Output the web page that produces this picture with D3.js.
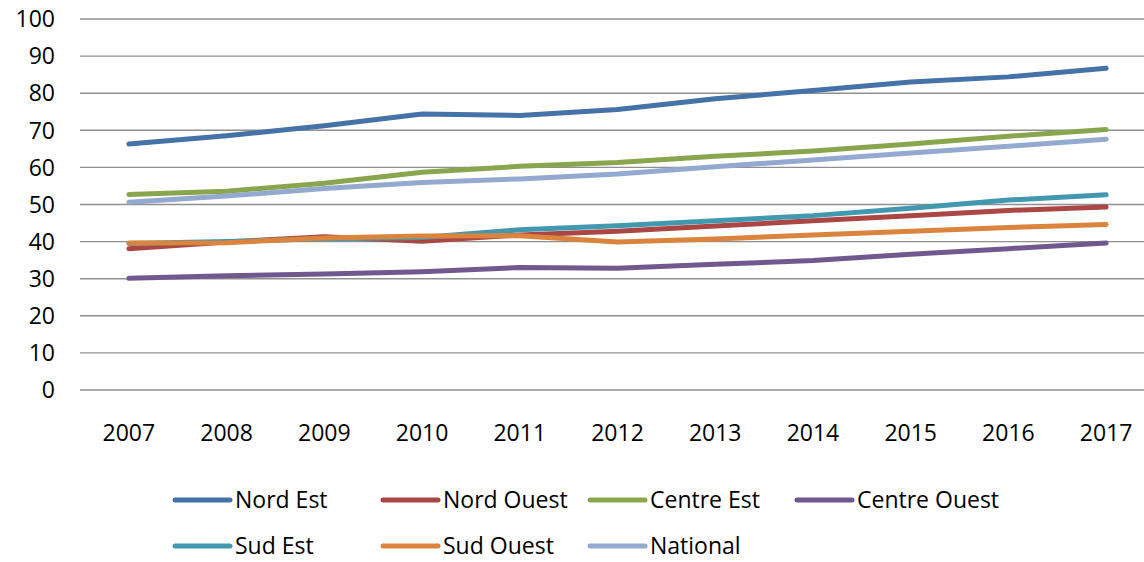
<!DOCTYPE html>
<html>
<head>
<meta charset="utf-8">
<script src="https://cdn.jsdelivr.net/npm/d3@7"></script>
<style>
  body { margin: 0; background: #fff; }
  text { font-family: "Open Sans", "Liberation Sans", sans-serif; fill: #000; }
</style>
</head>
<body>
<div id="chart"></div>
<script>
// Years on the x axis
var years = ["2007", "2008", "2009", "2010", "2011", "2012", "2013", "2014", "2015", "2016", "2017"];

// Series names (legend order)
var seriesNames = ["Nord Est", "Nord Ouest", "Centre Est", "Centre Ouest", "Sud Est", "Sud Ouest", "National"];

// Values
var nordEst     = [66.3, 68.5, 71.2, 74.4, 74.0, 75.6, 78.5, 80.7, 83.0, 84.4, 86.7];
var nordOuest   = [38.1, 39.9, 41.3, 40.1, 41.8, 42.8, 44.2, 45.6, 47.0, 48.4, 49.3];
var centreEst   = [52.7, 53.6, 55.7, 58.7, 60.3, 61.3, 63.0, 64.4, 66.3, 68.4, 70.2];
var centreOuest = [30.1, 30.8, 31.3, 31.9, 33.0, 32.8, 33.9, 34.9, 36.6, 38.1, 39.6];
var sudEst      = [39.5, 40.0, 40.8, 41.1, 43.2, 44.3, 45.6, 47.0, 49.0, 51.2, 52.6];
var sudOuest    = [39.6, 39.7, 41.0, 41.5, 41.6, 39.9, 40.7, 41.8, 42.8, 43.8, 44.6];
var national    = [50.6, 52.3, 54.3, 55.9, 56.9, 58.2, 60.2, 62.0, 63.9, 65.7, 67.6];

var yTicks = [0, 10, 20, 30, 40, 50, 60, 70, 80, 90, 100];

var colors = ["#4572A7", "#AA4643", "#89A54E", "#71588F", "#4198AF", "#DB843D", "#93A9CF"];

function init() {
    var w = 1144;
    var h = 562;

    var seriesValues = [nordEst, nordOuest, centreEst, centreOuest, sudEst, sudOuest, national];
    var series = seriesNames.map(function (name, i) {
        return { name: name, color: colors[i], values: seriesValues[i] };
    });

    var svg = d3.select("#chart")
        .append("svg")
        .attr("width", w)
        .attr("height", h);

    // Scales
    var x = d3.scalePoint()
        .domain(years)
        .range([80, 1155])
        .padding(0.5);

    var y = d3.scaleLinear()
        .domain([0, 100])
        .range([390, 19]);

    // Gridlines
    svg.append("g")
        .selectAll("line")
        .data(yTicks)
        .enter()
        .append("line")
        .attr("x1", 80)
        .attr("x2", w)
        .attr("y1", function (d) { return y(d); })
        .attr("y2", function (d) { return y(d); })
        .attr("stroke", "#8f8f8f")
        .attr("stroke-width", 1.4);

    // Y axis labels
    svg.append("g")
        .selectAll("text")
        .data(yTicks)
        .enter()
        .append("text")
        .attr("x", 55)
        .attr("y", function (d) { return y(d); })
        .attr("dy", "0.36em")
        .attr("text-anchor", "end")
        .style("font-size", "23px")
        .text(function (d) { return d; });

    // X axis labels
    svg.append("g")
        .selectAll("text")
        .data(years)
        .enter()
        .append("text")
        .attr("x", function (d) { return x(d); })
        .attr("y", 441)
        .attr("text-anchor", "middle")
        .style("font-size", "23px")
        .text(function (d) { return d; });

    // Lines
    var line = d3.line()
        .x(function (d, i) { return x(years[i]); })
        .y(function (d) { return y(d); });

    svg.append("g")
        .selectAll("path")
        .data(series)
        .enter()
        .append("path")
        .attr("d", function (d) { return line(d.values); })
        .attr("fill", "none")
        .attr("stroke", function (d) { return d.color; })
        .attr("stroke-width", 5)
        .attr("stroke-linecap", "round")
        .attr("stroke-linejoin", "round");

    // Legend
    var colX = [175, 383, 590, 797];
    var rowY = [500, 546];

    var legend = svg.append("g")
        .selectAll("g")
        .data(series)
        .enter()
        .append("g")
        .attr("transform", function (d, i) {
            return "translate(" + colX[i % 4] + "," + rowY[Math.floor(i / 4)] + ")";
        });

    legend.append("line")
        .attr("x1", 0)
        .attr("x2", 55)
        .attr("y1", 0)
        .attr("y2", 0)
        .attr("stroke", function (d) { return d.color; })
        .attr("stroke-width", 5)
        .attr("stroke-linecap", "round");

    legend.append("text")
        .attr("x", 60)
        .attr("y", 0)
        .attr("dy", "0.36em")
        .style("font-size", "23px")
        .text(function (d) { return d.name; });
}

window.onload = init;
</script>
</body>
</html>
